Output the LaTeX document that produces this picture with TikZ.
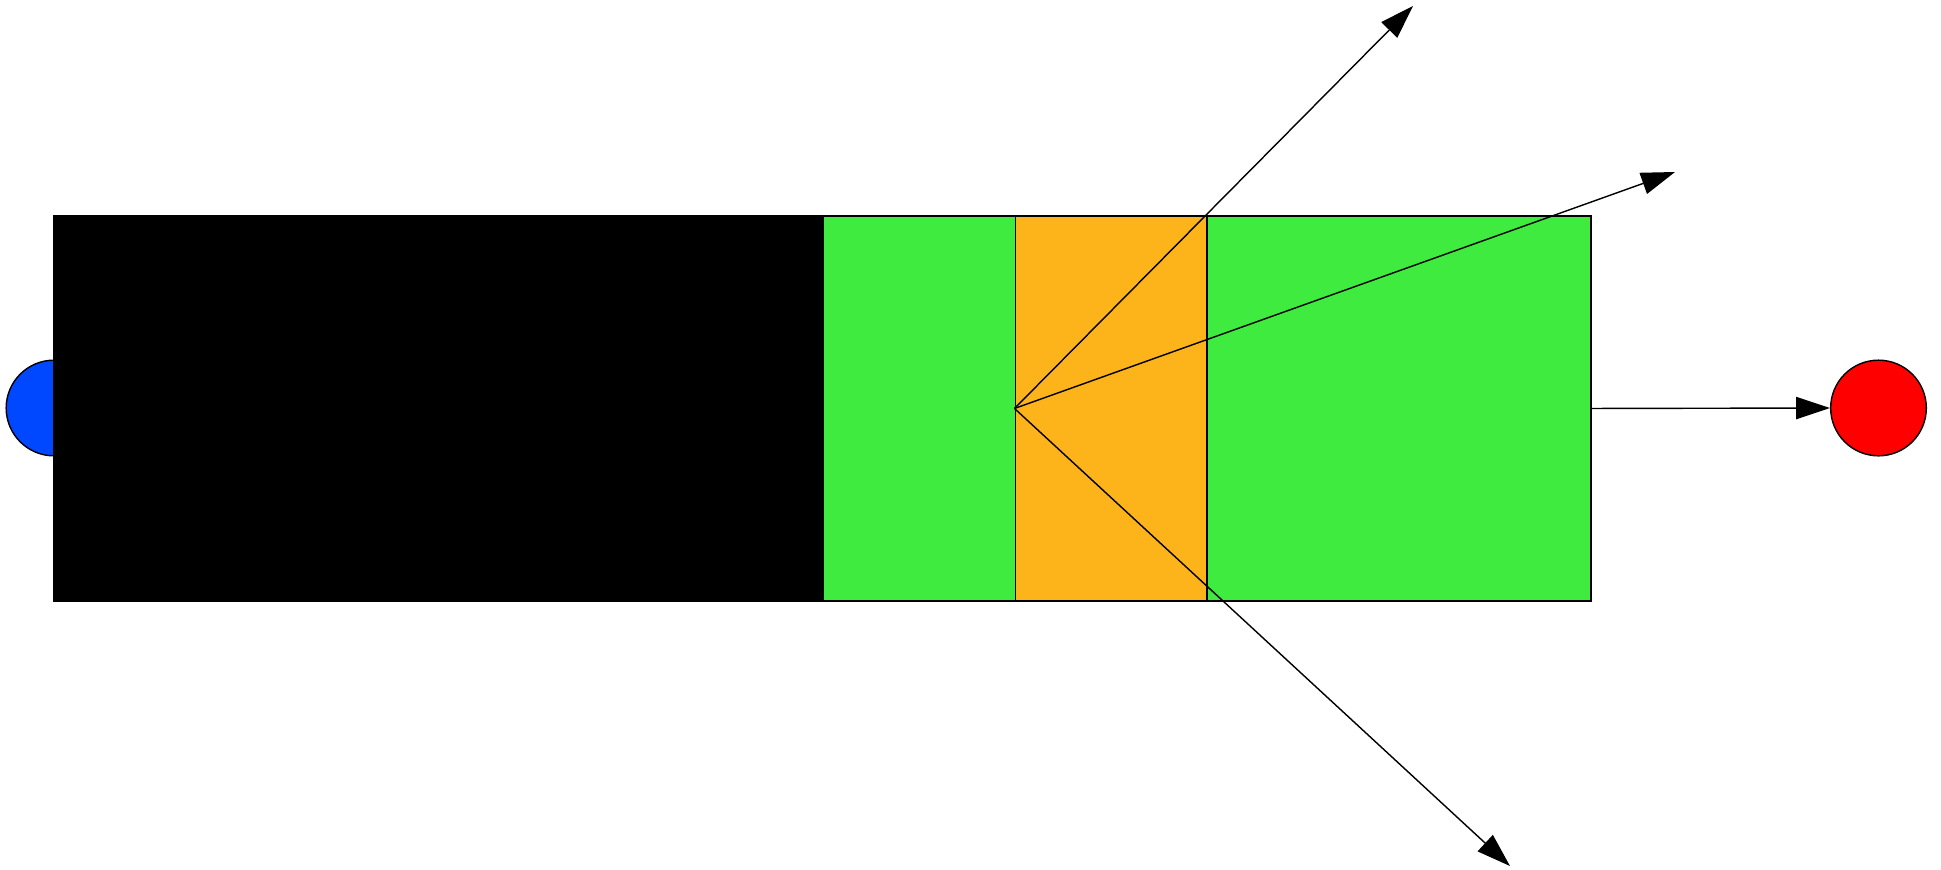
\documentclass[tikz,border=0pt]{standalone}
\usepackage{tikz}
\usetikzlibrary{arrows.meta,positioning}
\definecolor{ink}{HTML}{000000}
\definecolor{blueend}{HTML}{0048FF}
\definecolor{greenbar}{HTML}{3FEB3F}
\definecolor{orangeslab}{HTML}{FDB41A}
\definecolor{redend}{HTML}{FF0000}
\tikzset{
  block/.style={draw=ink,line width=0.4pt,inner sep=0pt,anchor=north west},
  endpt/.style={circle,draw=ink,line width=0.4pt,inner sep=0pt,minimum size=0.956cm},
  ray/.style={draw=ink,line width=0.4pt,-{Triangle[length=9.6pt,width=6.3pt]}}
}
\begin{document}
\begin{tikzpicture}[x=0.01cm,y=-0.01cm]
        \useasboundingbox (0,0) rectangle (1941,869);
        \node[endpt,fill=blueend] (src) at (54,408) {};
        \node[block,fill=ink,minimum width=7.694cm,minimum height=3.847cm] (body) at (53.3,215.3) {};
        \node[block,fill=greenbar,minimum width=7.673cm,minimum height=3.847cm] (bar) at (822.7,215.3) {};
        \node[block,fill=orangeslab,minimum width=1.915cm,minimum height=3.847cm] (slab) at (1014.5,215.3) {};
        \node[endpt,fill=redend] (sink) at (1878.5,408) {};
        \coordinate (hit) at (slab.west);
        \coordinate (up) at (1413,6);
        \coordinate (upright) at (1675,172);
        \coordinate (down) at (1510,866);
        \draw[ray] (hit) -- (up);
        \draw[ray] (hit) -- (upright);
        \draw[ray] (hit) -- (down);
        \draw[ray] (bar.east) -- (sink.west);
      \end{tikzpicture}
\end{document}
